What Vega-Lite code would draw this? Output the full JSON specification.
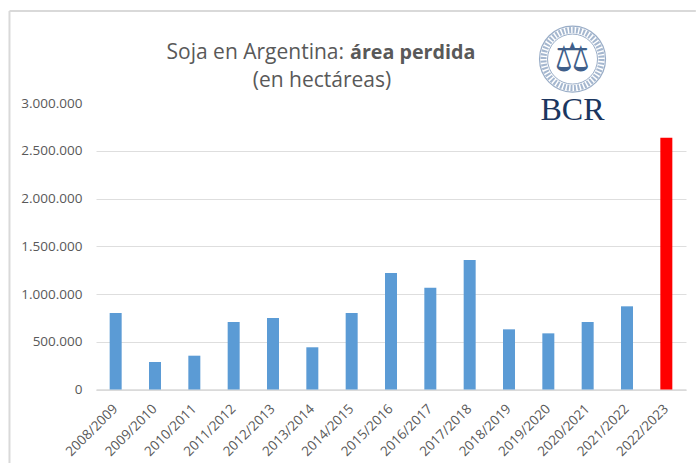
{
"$schema":"https://vega.github.io/schema/vega-lite/v6.json",
"width":590,"height":286.5,
"autosize":{"type":"none"},
"padding":{"left":96,"top":103,"right":10,"bottom":73.5},
"background":"white",
"config":{"view":{"stroke":null},"font":"Open Sans"},
"resolve":{"scale":{"x":"independent"}},
"layer":[
{"data":{"values":[
{"campana":"2008/2009","area":801000,"tipo":"historico"},
{"campana":"2009/2010","area":288000,"tipo":"historico"},
{"campana":"2010/2011","area":354000,"tipo":"historico"},
{"campana":"2011/2012","area":707000,"tipo":"historico"},
{"campana":"2012/2013","area":749000,"tipo":"historico"},
{"campana":"2013/2014","area":442000,"tipo":"historico"},
{"campana":"2014/2015","area":801000,"tipo":"historico"},
{"campana":"2015/2016","area":1220000,"tipo":"historico"},
{"campana":"2016/2017","area":1066000,"tipo":"historico"},
{"campana":"2017/2018","area":1356000,"tipo":"historico"},
{"campana":"2018/2019","area":630000,"tipo":"historico"},
{"campana":"2019/2020","area":588000,"tipo":"historico"},
{"campana":"2020/2021","area":707000,"tipo":"historico"},
{"campana":"2021/2022","area":871000,"tipo":"historico"},
{"campana":"2022/2023","area":2636000,"tipo":"actual"}
]},
"mark":{"type":"bar"},
"encoding":{
"x":{"field":"campana","type":"nominal","sort":null,"title":null,
"scale":{"paddingInner":0.695,"paddingOuter":0.3475},
"axis":{"labelAngle":-45,"labelAlign":"right","labelBaseline":"middle","labelFontSize":13.5,"labelColor":"#595959","labelPadding":17,"ticks":false,"domainColor":"#d9d9d9","domainWidth":1.5,"grid":false,"labelOverlap":false}},
"y":{"field":"area","type":"quantitative","title":null,
"scale":{"domain":[0,3000000],"nice":false},
"axis":{"values":[0,500000,1000000,1500000,2000000,2500000,3000000],"labelExpr":"replace(format(datum.value, ','), regexp(',', 'g'), '.')","labelFontSize":13.5,"labelColor":"#595959","labelPadding":14,"ticks":false,"domain":false,"grid":true,"gridColor":"#dedede","gridWidth":1,"gridOpacity":{"condition":{"test":"datum.value >= 3000000","value":0},"value":1}}},
"color":{"field":"tipo","type":"nominal","legend":null,"scale":{"domain":["historico","actual"],"range":["#5b9bd5","#ff0000"]}}
}},
{"data":{"values":[{"xa":-2.2,"xb":15.25,"ya":3963000}]},
"mark":{"type":"rule","color":"#d9d9d9","strokeWidth":2},
"encoding":{"x":{"field":"xa","type":"quantitative","scale":{"domain":[0,15],"nice":false,"zero":false},"axis":null},"x2":{"field":"xb"},"y":{"field":"ya","type":"quantitative","title":null}}},
{"data":{"values":[{"xa":-2.2,"ya":3963000,"yb":-770000}]},
"mark":{"type":"rule","color":"#d9d9d9","strokeWidth":2},
"encoding":{"x":{"field":"xa","type":"quantitative","scale":{"domain":[0,15],"nice":false,"zero":false},"axis":null},"y":{"field":"ya","type":"quantitative","title":null},"y2":{"field":"yb"}}},
{"data":{"values":[{"t":"Soja en Argentina:","px":6.306,"py":3460000}]},
"mark":{"type":"text","align":"right","baseline":"alphabetic","fontSize":21,"color":"#595959"},
"encoding":{"text":{"field":"t"},"x":{"field":"px","type":"quantitative","scale":{"domain":[0,15],"nice":false,"zero":false},"axis":null},"y":{"field":"py","type":"quantitative","title":null}}},
{"data":{"values":[{"t":"área perdida","px":6.458,"py":3460000}]},
"mark":{"type":"text","align":"left","baseline":"alphabetic","fontSize":19.7,"fontWeight":"bold","color":"#595959"},
"encoding":{"text":{"field":"t"},"x":{"field":"px","type":"quantitative","scale":{"domain":[0,15],"nice":false,"zero":false},"axis":null},"y":{"field":"py","type":"quantitative","title":null}}},
{"data":{"values":[{"t":"(en hectáreas)","px":5.746,"py":3167000}]},
"mark":{"type":"text","align":"center","baseline":"alphabetic","fontSize":21,"color":"#595959"},
"encoding":{"text":{"field":"t"},"x":{"field":"px","type":"quantitative","scale":{"domain":[0,15],"nice":false,"zero":false},"axis":null},"y":{"field":"py","type":"quantitative","title":null}}},
{"data":{"values":[{"px":12.115,"py":3460000}]},
"mark":{"type":"point","shape":"circle","size":4356,"filled":false,"stroke":"#6f8bb0","strokeWidth":1.2},
"encoding":{"x":{"field":"px","type":"quantitative","scale":{"domain":[0,15],"nice":false,"zero":false},"axis":null},"y":{"field":"py","type":"quantitative","title":null}}},
{"data":{"values":[{"px":12.115,"py":3460000}]},
"mark":{"type":"point","shape":"circle","size":3364,"filled":false,"stroke":"#7f99bb","strokeWidth":6,"strokeDash":[2,1.5]},
"encoding":{"x":{"field":"px","type":"quantitative","scale":{"domain":[0,15],"nice":false,"zero":false},"axis":null},"y":{"field":"py","type":"quantitative","title":null}}},
{"data":{"values":[{"px":12.115,"py":3460000}]},
"mark":{"type":"point","shape":"circle","size":2500,"filled":false,"stroke":"#6f8bb0","strokeWidth":1},
"encoding":{"x":{"field":"px","type":"quantitative","scale":{"domain":[0,15],"nice":false,"zero":false},"axis":null},"y":{"field":"py","type":"quantitative","title":null}}},
{"data":{"values":[{"t":"⚖","px":12.115,"py":3460000}]},
"mark":{"type":"text","align":"center","baseline":"middle","font":"DejaVu Sans","fontSize":40,"color":"#3f5f8a"},
"encoding":{"text":{"field":"t"},"x":{"field":"px","type":"quantitative","scale":{"domain":[0,15],"nice":false,"zero":false},"axis":null},"y":{"field":"py","type":"quantitative","title":null}}},
{"data":{"values":[{"t":"BCR","px":12.115,"py":2822000}]},
"mark":{"type":"text","align":"center","baseline":"alphabetic","font":"Liberation Serif","fontSize":32,"color":"#1b365f"},
"encoding":{"text":{"field":"t"},"x":{"field":"px","type":"quantitative","scale":{"domain":[0,15],"nice":false,"zero":false},"axis":null},"y":{"field":"py","type":"quantitative","title":null}}}
]
}
